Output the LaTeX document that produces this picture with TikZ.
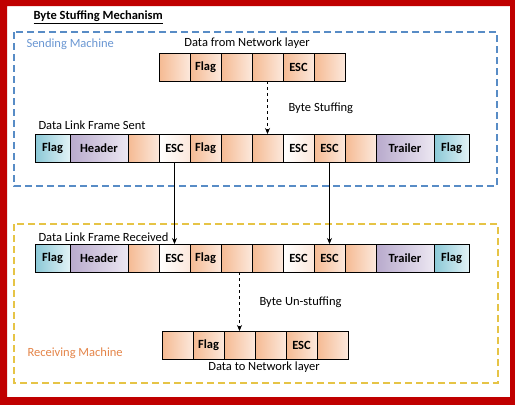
\documentclass[tikz,border=0pt]{standalone}
\usepackage{fontspec}
\setmainfont{Carlito}
\usetikzlibrary{arrows.meta,positioning}
\definecolor{framered}{RGB}{192,0,0}
\definecolor{sendblue}{RGB}{88,140,198}
\definecolor{sendtext}{RGB}{105,150,210}
\definecolor{recvyellow}{RGB}{230,196,70}
\definecolor{recvtext}{RGB}{228,132,72}
\definecolor{dataL}{RGB}{245,186,146}
\definecolor{dataR}{RGB}{252,232,220}
\definecolor{flagL}{RGB}{138,200,214}
\definecolor{flagR}{RGB}{226,242,246}
\definecolor{hdrL}{RGB}{184,170,204}
\definecolor{hdrR}{RGB}{236,231,242}

\begin{document}
\begin{tikzpicture}[x=1pt,y=-1pt,font=\fontsize{12.5}{15}\selectfont,
  cell/.style={draw,line width=0.8pt,minimum width=31pt,minimum height=28pt,
    inner sep=0pt,outer sep=0pt,font=\fontsize{12.5}{15}\selectfont\bfseries},
  dat/.style={cell,left color=dataL,right color=dataR},
  stuffed/.style={cell,left color=white,right color=dataR},
  flg/.style={cell,minimum width=35pt,left color=flagL,right color=flagR},
  hdr/.style={cell,minimum width=58pt,left color=hdrL,right color=hdrR},
  machinebox/.style={line width=1.8pt,dash pattern=on 7pt off 4pt},
  flow/.style={-{Stealth[length=6pt,width=5pt]},line width=0.7pt}]
  \useasboundingbox (0,0) rectangle (515,405);
  % red frame round the whole picture
  \fill[framered,even odd rule] (0,0) rectangle (515,405) (7,6) rectangle (510,397);
  \node[anchor=west,font=\fontsize{12.5}{15}\selectfont\bfseries] (title) at (30,17) {\underline{Byte Stuffing Mechanism}};

  % sending side
  \draw[machinebox,sendblue] (14,32) rectangle (497,186);
  \node[anchor=west,sendtext] (sendlbl) at (23,44) {Sending Machine};
  \node (datafrom) at (247,43) {Data from Network layer};
  \node[dat,anchor=north west] (d1) at (159,53) {};
  \foreach \st/\tx [count=\i from 2, remember=\i as \j (initially 1)] in {dat/Flag,dat/,dat/,dat/ESC,dat/}
    \node[\st,right=0pt of d\j] (d\i) {\tx};
  \node[anchor=west] (stufflbl) at (285,108) {Byte Stuffing};
  \node[anchor=west] (sentlbl) at (35,125) {Data Link Frame Sent};
  \node[flg,anchor=north west] (s1) at (35,134) {Flag};
  \foreach \st/\tx [count=\i from 2, remember=\i as \j (initially 1)] in
      {hdr/Header,dat/,stuffed/ESC,dat/Flag,dat/,dat/,stuffed/ESC,dat/ESC,dat/,hdr/Trailer,flg/Flag}
    \node[\st,right=0pt of s\j] (s\i) {\tx};
  \draw[flow,dashed] (d4.south) -- (d4.south |- s7.north);

  % receiving side
  \draw[machinebox,recvyellow] (14,224) rectangle (498,383);
  \node[anchor=west,recvtext] (recvlbl) at (24,353) {Receiving Machine};
  \node[anchor=west] (rcvdlbl) at (35,237) {Data Link Frame Received};
  \node[flg,anchor=north west] (r1) at (35,244) {Flag};
  \foreach \st/\tx [count=\i from 2, remember=\i as \j (initially 1)] in
      {hdr/Header,dat/,stuffed/ESC,dat/Flag,dat/,dat/,stuffed/ESC,dat/ESC,dat/,hdr/Trailer,flg/Flag}
    \node[\st,right=0pt of r\j] (r\i) {\tx};
  \node[anchor=west] (unstufflbl) at (256,302) {Byte Un-stuffing};
  \node[dat,anchor=north west] (b1) at (162,331) {};
  \foreach \st/\tx [count=\i from 2, remember=\i as \j (initially 1)] in {dat/Flag,dat/,dat/,dat/ESC,dat/}
    \node[\st,right=0pt of b\j] (b\i) {\tx};
  \node (datato) at (264,367) {Data to Network layer};
  \draw[flow,dashed] (b3.north |- r6.south) -- (b3.north);

  % frame sent to frame received
  \draw[flow] (s4.south) -- (r4.north);
  \draw[flow] (s9.south) -- (r9.north);
\end{tikzpicture}
\end{document}
